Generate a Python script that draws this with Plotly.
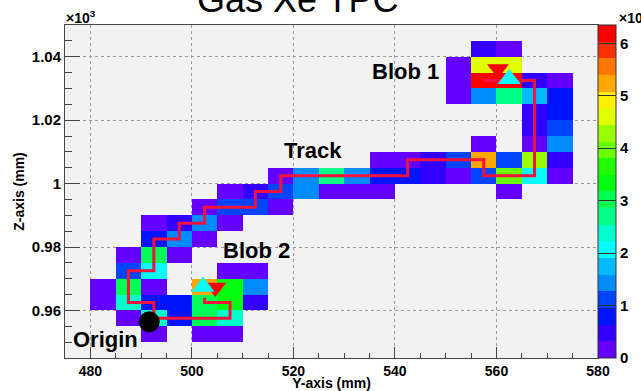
import colorsys
import plotly.graph_objects as go

# ---------------- data ----------------
# bin centres (5 mm voxels)
y_axis_bins = [477.5, 482.5, 487.5, 492.5, 497.5, 502.5, 507.5, 512.5, 517.5, 522.5,
               527.5, 532.5, 537.5, 542.5, 547.5, 552.5, 557.5, 562.5, 567.5, 572.5, 577.5]
z_axis_bins = [947.5, 952.5, 957.5, 962.5, 967.5, 972.5, 977.5, 982.5, 987.5, 992.5,
               997.5, 1002.5, 1007.5, 1012.5, 1017.5, 1022.5, 1027.5, 1032.5, 1037.5, 1042.5, 1047.5]

# energy per voxel (x10^3), keyed by lower Z edge -> {lower Y edge: value}
energy_rows = {
    1040: {555: 0.5, 560: 0.15},
    1035: {550: 0.15, 555: 4.6, 560: 4.6},
    1030: {550: 0.15, 555: 6.2, 560: 6.2, 565: 0.45, 570: 0.15},
    1025: {550: 0.15, 555: 1.4, 560: 2.7, 565: 1.75, 570: 0.8},
    1020: {565: 0.45, 570: 0.8},
    1015: {565: 0.45, 570: 1.1},
    1010: {555: 0.15, 565: 0.15, 570: 1.4},
    1005: {535: 0.15, 540: 0.15, 545: 0.45, 550: 1.1, 555: 5.25, 560: 1.1, 565: 4.3, 570: 0.45},
    1000: {515: 0.15, 520: 1.4, 525: 2.7, 530: 1.4, 535: 0.8, 540: 0.8, 545: 0.45, 550: 0.15,
           555: 1.1, 560: 4.0, 565: 2.05, 570: 0.15},
    995: {505: 0.15, 510: 0.45, 515: 1.1, 520: 1.4, 525: 0.15, 530: 0.15, 535: 0.15, 560: 0.15},
    990: {500: 0.15, 505: 1.1, 510: 1.1, 515: 0.15},
    985: {490: 0.15, 495: 0.45, 500: 1.4, 505: 0.15},
    980: {490: 0.8, 495: 1.4, 500: 0.15},
    975: {485: 0.15, 490: 3.0, 495: 0.15},
    970: {485: 1.1, 490: 2.05, 505: 0.15, 510: 0.15},
    965: {480: 0.15, 485: 3.1, 490: 0.15, 500: 5.25, 505: 3.3, 510: 1.4},
    960: {480: 0.15, 485: 2.4, 490: 0.8, 495: 0.8, 500: 3.0, 505: 3.3, 510: 0.45},
    955: {485: 0.15, 490: 2.4, 495: 0.8, 500: 3.0, 505: 2.4},
    950: {490: 0.15, 500: 0.15, 505: 0.15},
}

# reconstructed track (voxel centres)
track_y = [557.5, 567.5, 567.5, 557.5, 557.5, 542.5, 542.5, 517.5, 517.5, 512.5, 512.5,
           502.5, 502.5, 497.5, 497.5, 492.5, 492.5, 487.5, 487.5, 492.5, 492.5, 507.5,
           507.5, 502.5, 502.5]
track_z = [1032.5, 1032.5, 1002.5, 1002.5, 1007.5, 1007.5, 1002.5, 1002.5, 997.5, 997.5, 992.5,
           992.5, 987.5, 987.5, 982.5, 982.5, 972.5, 972.5, 962.5, 962.5, 957.5, 957.5,
           962.5, 962.5, 964.0]

origin_y, origin_z = [491.6], [956.4]
blob_true_y, blob_true_z = [560.3, 504.6], [1036.1, 967.2]   # red down-triangles
blob_reco_y, blob_reco_z = [562.5, 502.2], [1033.0, 967.5]   # cyan up-triangles

labels_text = ["Blob 1", "Track", "Blob 2", "Origin"]
labels_y = [542.1, 523.8, 512.7, 483.0]
labels_z = [1035.2, 1010.4, 979.0, 950.7]

x_ticks = [480, 500, 520, 540, 560, 580]
z_ticks = [960, 980, 1000, 1020, 1040]
z_ticktext = ["0.96", "0.98", "1", "1.02", "1.04"]
cbar_ticks = [0, 1, 2, 3, 4, 5, 6]

ZMIN, ZMAX, NCONT = 0.0, 6.35, 20

# ---------------- build grid ----------------
z = [[None for _ in y_axis_bins] for _ in z_axis_bins]
for zlow, cols in energy_rows.items():
    j = z_axis_bins.index(zlow + 2.5)
    for ylow, v in cols.items():
        i = y_axis_bins.index(ylow + 2.5)
        z[j][i] = v

# ROOT "pretty palette" with 20 contours
def root_color(k):
    idx = int((k + 0.99) * 50 / NCONT)
    if idx >= 49:
        return "rgb(255,0,0)"
    hue = 280 - (idx + 1) * 5.6
    r, g, b = colorsys.hls_to_rgb(hue / 360.0, 0.5, 1.0)
    return "rgb(%d,%d,%d)" % (round(r * 255), round(g * 255), round(b * 255))

cscale = []
for k in range(NCONT):
    c = root_color(k)
    cscale.append([k / NCONT, c])
    cscale.append([(k + 1) / NCONT, c])

FONT = "Liberation Sans, Arial, Helvetica, sans-serif"

fig = go.Figure()
fig.add_trace(go.Heatmap(
    x=y_axis_bins, y=z_axis_bins, z=z, zmin=ZMIN, zmax=ZMAX,
    colorscale=cscale, hoverinfo="skip", xgap=0, ygap=0,
    colorbar=dict(
        x=1.0, xanchor="left", xpad=0, ypad=0, y=0.5, yanchor="middle",
        len=1, lenmode="fraction", thickness=18, thicknessmode="pixels",
        outlinewidth=1, outlinecolor="#333",
        tickmode="array", tickvals=cbar_ticks, ticks="inside", ticklen=18,
        tickcolor="#333", tickwidth=1,
        tickfont=dict(family=FONT, size=15, color="black", weight="bold"),
    ),
))

fig.add_trace(go.Scatter(x=track_y, y=track_z, mode="lines",
                         line=dict(color="#f2123e", width=3), hoverinfo="skip"))
fig.add_trace(go.Scatter(x=origin_y, y=origin_z, mode="markers",
                         marker=dict(symbol="circle", size=21, color="black"), hoverinfo="skip"))
fig.add_trace(go.Scatter(x=blob_true_y, y=blob_true_z, mode="markers",
                         marker=dict(symbol="triangle-down", size=19, color="#ff0000"), hoverinfo="skip"))
fig.add_trace(go.Scatter(x=blob_reco_y, y=blob_reco_z, mode="markers",
                         marker=dict(symbol="triangle-up", size=20, color="#00ffff"), hoverinfo="skip"))

for t, xv, yv in zip(labels_text, labels_y, labels_z):
    fig.add_annotation(x=xv, y=yv, text=t, showarrow=False, xanchor="center", yanchor="middle",
                       font=dict(family=FONT, size=22, color="black", weight="bold"))

# exponents and title
fig.add_annotation(xref="paper", yref="paper", x=-0.002, y=1.0, xanchor="left", yanchor="bottom",
                   yshift=-3, text="×10<sup>3</sup>", showarrow=False,
                   font=dict(family=FONT, size=14, color="black", weight="bold"))
fig.add_annotation(xref="paper", yref="paper", x=1.0356, y=1.0, xanchor="left", yanchor="bottom",
                   yshift=-3, text="×10<sup>3</sup>", showarrow=False,
                   font=dict(family=FONT, size=14, color="black", weight="bold"))
fig.add_annotation(xref="paper", yref="paper", x=0.437, y=1.078, xanchor="center", yanchor="middle",
                   text="Gas Xe TPC", showarrow=False,
                   font=dict(family=FONT, size=36, color="black"))

axis_common = dict(
    showgrid=True, gridcolor="#9a9a9a", griddash="dot", gridwidth=1,
    showline=True, linecolor="#444", linewidth=1, mirror=True, zeroline=False,
    ticks="inside", tickcolor="#444", tickwidth=1, automargin=False,
)

fig.update_xaxes(range=[475, 580], tickmode="array", tickvals=x_ticks, ticklen=11,
                 tickfont=dict(family=FONT, size=14, color="black", weight="bold"),
                 minor=dict(dtick=5, tick0=475, ticks="inside", ticklen=5, tickcolor="#444", showgrid=False),
                 title=dict(text="Y-axis (mm)", standoff=2,
                            font=dict(family=FONT, size=14, color="black", weight="bold")),
                 **axis_common)
fig.update_yaxes(range=[945, 1050], tickmode="array", tickvals=z_ticks, ticktext=z_ticktext, ticklen=15,
                 tickfont=dict(family=FONT, size=15, color="black", weight="bold"),
                 minor=dict(dtick=5, tick0=945, ticks="inside", ticklen=7, tickcolor="#444", showgrid=False),
                 title=dict(text="Z-axis (mm)", standoff=3,
                            font=dict(family=FONT, size=14, color="black", weight="bold")),
                 **axis_common)

fig.update_layout(width=641, height=391,
                  margin=dict(l=65, r=43, t=25, b=33, autoexpand=False),
                  paper_bgcolor="white", plot_bgcolor="#f2f2f2", showlegend=False,
                  font=dict(family=FONT, color="black"))

fig.write_html("out.html", config={"displayModeBar": False},
               post_script="document.body.style.margin='0px';document.body.style.overflow='hidden';")
